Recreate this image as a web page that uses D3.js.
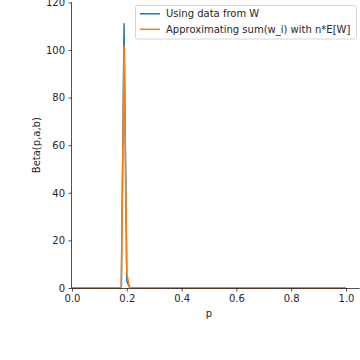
<!DOCTYPE html>
<html>
<head>
<meta charset="utf-8">
<script src="https://cdn.jsdelivr.net/npm/d3@7"></script>
<style>
  body { margin: 0; background: #fff; }
  text { font-family: "DejaVu Sans", sans-serif; fill: #262626; }
</style>
</head>
<body>
<div id="chart"></div>
<script>
// sampled p grid (only the points where the curves change, rest is zero)
const pValues = [0, 0.17, 0.18, 0.19, 0.20, 0.21, 0.22, 1.0]
const fromW = [0, 0, 0, 111, 3, 0.2, 0, 0]
const approx = [0, 0, 0, 102, 6, 0.3, 0, 0]
const xTicks = [0, 0.2, 0.4, 0.6, 0.8, 1.0]
const yTicks = [0, 20, 40, 60, 80, 100, 120]
const seriesNames = ['Using data from W', 'Approximating sum(w_i) with n*E[W]']
const colors = ['#1f77b4', '#ff7f0e']

const w = 360
const h = 360
const margin = { left: 72, top: 2.4, right: 0.5, bottom: 72 }

const svg = d3.select('#chart')
  .append('svg')
  .attr('width', w)
  .attr('height', h)

const x = d3.scaleLinear().domain([0, 1.05]).range([margin.left, margin.left + 1.05 * 274])
const y = d3.scaleLinear().domain([0, 120]).range([288, margin.top])

// lines
const line = d3.line()
  .x(d => x(d[0]))
  .y(d => y(d[1]))

;[fromW, approx].forEach((vals, i) => {
  svg.append('path')
    .datum(pValues.map((p, j) => [p, vals[j]]))
    .attr('d', line)
    .attr('fill', 'none')
    .attr('stroke', colors[i])
    .attr('stroke-width', 1.5)
    .attr('stroke-linejoin', 'round')
})

// axes
const xAxis = svg.append('g')
  .attr('transform', `translate(0,${y(0)})`)
  .call(d3.axisBottom(x).tickValues(xTicks).tickFormat(d3.format('.1f')).tickSize(3.5).tickPadding(3.5))
const yAxis = svg.append('g')
  .attr('transform', `translate(${x(0)},0)`)
  .call(d3.axisLeft(y).tickValues(yTicks).tickSize(3.5).tickPadding(3.5))

;[xAxis, yAxis].forEach(a => {
  a.selectAll('path').attr('stroke', '#262626').attr('stroke-width', 0.8)
  a.selectAll('line').attr('stroke', '#262626').attr('stroke-width', 0.8)
  a.selectAll('text').style('font-size', '10px').style('font-family', 'DejaVu Sans').attr('fill', '#262626')
})
xAxis.select('.domain').attr('d', `M${x(0)},0.5H${x(1.05)}`)
yAxis.select('.domain').attr('d', `M-0.5,${y(0)}V${y(120)}`)

svg.append('text')
  .attr('x', x(0.5))
  .attr('y', 317)
  .attr('text-anchor', 'middle')
  .style('font-size', '10px')
  .text('p')

svg.append('text')
  .attr('transform', `translate(40,${y(60)}) rotate(-90)`)
  .attr('text-anchor', 'middle')
  .style('font-size', '10px')
  .text('Beta(p,a,b)')

// legend
const legend = svg.append('g')
legend.append('rect')
  .attr('x', 135.5)
  .attr('y', 5.5)
  .attr('width', 221)
  .attr('height', 33.5)
  .attr('rx', 2)
  .attr('fill', 'white')
  .attr('fill-opacity', 0.8)
  .attr('stroke', '#cccccc')
  .attr('stroke-width', 0.8)

seriesNames.forEach((name, i) => {
  const ly = 13.8 + i * 15.5
  legend.append('line')
    .attr('x1', 140).attr('x2', 160)
    .attr('y1', ly).attr('y2', ly)
    .attr('stroke', colors[i])
    .attr('stroke-width', 1.5)
  legend.append('text')
    .attr('x', 166)
    .attr('y', ly + 3.6)
    .style('font-size', '10px')
    .text(name)
})
</script>
</body>
</html>
